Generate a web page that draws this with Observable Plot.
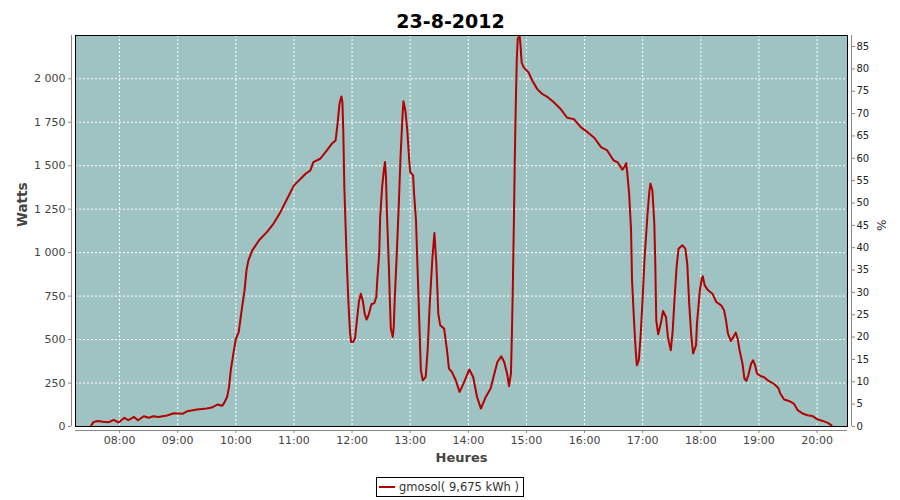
<!DOCTYPE html>
<html>
<head>
<meta charset="utf-8">
<script src="https://cdn.jsdelivr.net/npm/d3@7"></script>
<script src="https://cdn.jsdelivr.net/npm/@observablehq/plot@0.6"></script>
<style>
  html, body { margin: 0; padding: 0; background: #fff; }
  #wrap { width: 900px; height: 500px; position: relative; font-family: "DejaVu Sans", sans-serif; }
  #legend { width: 900px; height: 24px; display: flex; justify-content: center; align-items: flex-start; }
  #legend .box { border: 1px solid #000; height: 20px; box-sizing: border-box; display: flex; align-items: center; padding: 0 4px 0 2px; margin-top: 1px; font-size: 11.5px; color: #333; }
  #legend .swatch { width: 16px; height: 2px; background: #b00000; margin-right: 4px; }
</style>
</head>
<body>
<div id="wrap">
  <div id="chart"></div>
  <div id="legend"><div class="box"><div class="swatch"></div><span id="legtext"></span></div></div>
</div>
<script>
const title = "23-8-2012";
const seriesName = "gmosol( 9,675 kWh )";
const yLabel = "Watts";
const y2Label = "%";
const xLabel = "Heures";

const times = ["07:30","07:33","07:37","07:43","07:49","07:54","07:59","08:05","08:09","08:15","08:19","08:25","08:30","08:35","08:40","08:49","08:56","09:05","09:10","09:20","09:30","09:35","09:41","09:46","09:48","09:51","09:53","09:55","09:58","10:00","10:03","10:06","10:09","10:11","10:13","10:17","10:24","10:32","10:39","10:46","10:53","11:00","11:07","11:12","11:17","11:20","11:27","11:34","11:39","11:43","11:45","11:47","11:49","11:50","11:51","11:52","11:53","11:54","11:55","11:56","11:57","11:58","11:59","12:01","12:03","12:05","12:07","12:09","12:11","12:13","12:15","12:17","12:20","12:23","12:25","12:26","12:28","12:29","12:31","12:33","12:34","12:35","12:36","12:38","12:39","12:40","12:42","12:43","12:44","12:46","12:48","12:50","12:52","12:53","12:55","12:57","12:59","13:00","13:03","13:04","13:06","13:08","13:10","13:11","13:13","13:16","13:18","13:20","13:23","13:25","13:27","13:29","13:31","13:35","13:38","13:40","13:43","13:47","13:51","13:55","14:01","14:05","14:09","14:13","14:18","14:23","14:26","14:30","14:34","14:37","14:40","14:42","14:44","14:45","14:46","14:47","14:48","14:49","14:50","14:51","14:53","14:54","14:55","14:57","15:02","15:06","15:11","15:16","15:22","15:28","15:35","15:42","15:49","15:56","16:03","16:10","16:17","16:23","16:30","16:34","16:39","16:41","16:43","16:44","16:46","16:48","16:49","16:51","16:53","16:54","16:56","16:58","17:00","17:02","17:05","17:07","17:08","17:10","17:12","17:13","17:14","17:16","17:19","17:21","17:24","17:26","17:29","17:31","17:33","17:35","17:37","17:41","17:44","17:46","17:48","17:50","17:52","17:55","17:56","17:59","18:01","18:02","18:04","18:07","18:12","18:16","18:21","18:24","18:26","18:28","18:31","18:34","18:36","18:38","18:40","18:43","18:45","18:47","18:49","18:52","18:54","18:56","18:58","19:02","19:05","19:10","19:16","19:20","19:22","19:26","19:31","19:36","19:40","19:45","19:50","19:55","20:00","20:06","20:11","20:15"];
const watts = [0,25,32,27,25,38,23,50,36,55,36,59,50,59,55,63,76,73,88,98,103,109,126,119,136,170,228,333,438,502,544,668,783,898,956,1013,1071,1118,1167,1233,1310,1387,1425,1454,1473,1521,1540,1588,1626,1645,1741,1856,1898,1866,1684,1377,1205,1032,879,745,630,534,486,486,506,611,716,764,726,649,615,640,703,710,745,841,994,1205,1377,1483,1521,1435,1224,917,726,563,515,572,726,975,1243,1549,1779,1871,1818,1703,1530,1463,1444,1339,1186,841,496,324,266,285,438,687,975,1113,937,649,582,563,438,333,314,266,199,247,328,285,170,103,170,218,285,371,404,371,305,232,305,534,822,1167,1549,1856,2105,2230,2249,2182,2095,2067,2038,1990,1942,1914,1894,1866,1828,1776,1768,1722,1693,1661,1607,1590,1530,1521,1477,1492,1515,1463,1339,1128,841,611,420,352,381,534,745,975,1224,1358,1397,1358,1167,937,611,530,601,664,630,515,438,553,745,917,1023,1042,1023,937,707,534,420,467,592,783,851,864,812,787,764,716,697,668,611,534,492,519,540,506,438,362,276,262,295,362,381,352,305,289,285,262,243,222,190,155,147,132,94,75,65,61,42,32,21,7];

const hourTicks = ["08:00","09:00","10:00","11:00","12:00","13:00","14:00","15:00","16:00","17:00","18:00","19:00","20:00"];
const wattTicks = [0,250,500,750,1000,1250,1500,1750,2000];
const pctTicks = [0,5,10,15,20,25,30,35,40,45,50,55,60,65,70,75,80,85];
const xStartTime = "07:14:30";
const xEndTime = "20:31:25";
const wattMax = 2249;
const wattsPerPct = 25.71;

function toDate(s) {
  const p = s.split(":").map(Number);
  return new Date(Date.UTC(2012, 7, 23, p[0], p[1], p[2] || 0));
}
const data = times.map((t, i) => ({t: toDate(t), w: watts[i]}));
const xTicks = hourTicks.map(toDate);
const x0 = toDate(xStartTime), x1 = toDate(xEndTime);
const frFmt = d3.formatLocale({decimal: ",", thousands: "\u00a0", grouping: [3], currency: ["", ""]}).format(",");
const fmtW = d => frFmt(d).replace(/\u00a0/g, " ");
const bg = "#9fc3c2";
const font = "DejaVu Sans";

const chart = Plot.plot({
  width: 900,
  height: 476,
  marginTop: 35,
  marginLeft: 75,
  marginRight: 53,
  marginBottom: 50,
  style: {fontFamily: font, background: "#fff", overflow: "visible"},
  x: {type: "utc", domain: [x0, x1]},
  y: {domain: [0, wattMax]},
  marks: [
    Plot.frame({fill: bg, stroke: null}),
    Plot.gridX(xTicks, {stroke: "#fff", strokeOpacity: 1, strokeDasharray: "2,2", strokeWidth: 1}),
    Plot.gridY(wattTicks, {stroke: "#fff", strokeOpacity: 1, strokeDasharray: "2,2", strokeWidth: 1}),
    Plot.line(data, {x: "t", y: "w", stroke: "#b40000", strokeWidth: 2, clip: true}),
    Plot.frame({stroke: "#000", strokeWidth: 1}),
    // left axis
    Plot.ruleX([x0], {dx: -4, stroke: "#888", strokeWidth: 1}),
    Plot.axisY(wattTicks, {anchor: "left", dx: -4, tickSize: 3, tickPadding: 3, tickFormat: fmtW, fontSize: 11, fill: "#444", stroke: "#888", label: null}),
    // right axis
    Plot.ruleX([x1], {dx: 4, stroke: "#888", strokeWidth: 1}),
    Plot.axisY(pctTicks.map(p => p * wattsPerPct), {anchor: "right", dx: 4, tickSize: 3, tickPadding: 2, tickFormat: d => String(Math.round(d / wattsPerPct)), fontSize: 10, fill: "#222", stroke: "#888", label: null}),
    // bottom axis
    Plot.ruleY([0], {dy: 4, stroke: "#888", strokeWidth: 1}),
    Plot.axisX(xTicks, {anchor: "bottom", dy: 4, tickSize: 3, tickPadding: 3, tickFormat: d3.utcFormat("%H:%M"), fontSize: 11, fill: "#444", stroke: "#888", label: null}),
    // labels
    Plot.text([title], {frameAnchor: "top", dx: -11, dy: -21, fontSize: 19, fontWeight: "bold", fill: "#000"}),
    Plot.text([yLabel], {frameAnchor: "left", dx: -53, dy: -4, rotate: -90, fontSize: 13.5, fontWeight: "bold", fill: "#444"}),
    Plot.text([y2Label], {frameAnchor: "right", dx: 33, rotate: 90, fontSize: 12, fill: "#333"}),
    Plot.text([xLabel], {frameAnchor: "bottom", dy: 35, fontSize: 13, fontWeight: "bold", fill: "#444"})
  ]
});
document.getElementById("chart").appendChild(chart);
document.getElementById("legtext").textContent = seriesName;
</script>
</body>
</html>
